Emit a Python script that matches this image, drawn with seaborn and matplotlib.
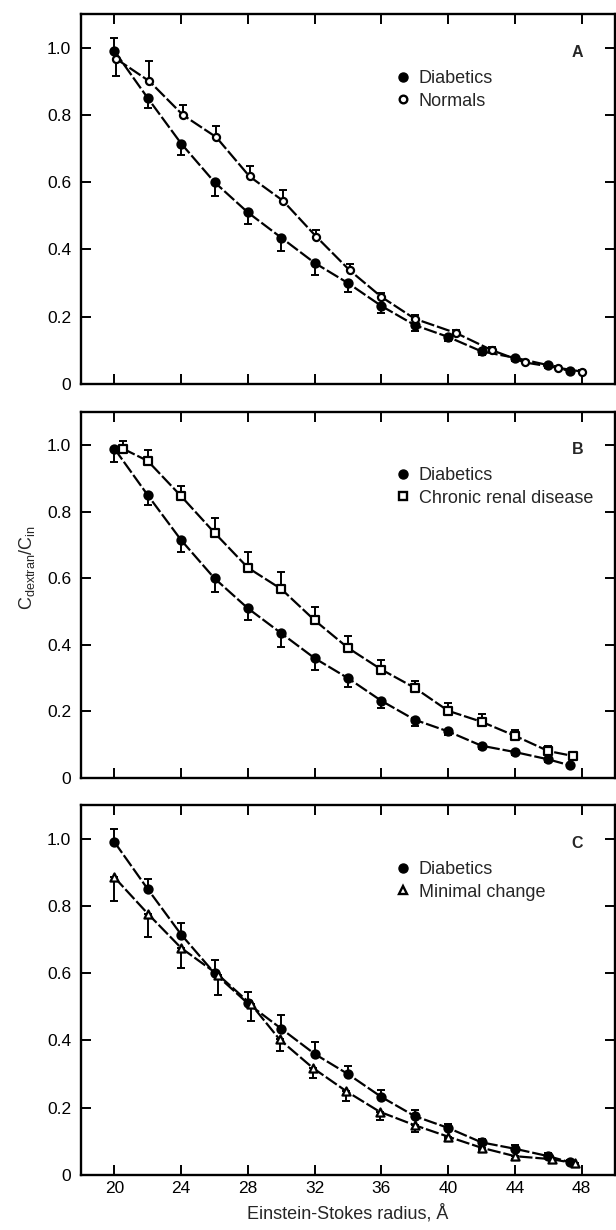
import matplotlib
matplotlib.use('Agg')
import matplotlib.pyplot as plt
from matplotlib.lines import Line2D
import seaborn as sns
import numpy as np

sns.set_style('ticks')
plt.rcParams['font.family'] = ['Liberation Sans', 'DejaVu Sans']

# Diabetics (same group in all three panels)
diab_x = [20, 22, 24, 26, 28, 30, 32, 34, 36, 38, 40, 42, 44, 46, 47.3]
diab_y = [0.99, 0.85, 0.715, 0.60, 0.51, 0.435, 0.36, 0.30, 0.232, 0.175, 0.14, 0.097, 0.078, 0.056, 0.038]
diab_err = [0.04, 0.03, 0.035, 0.04, 0.035, 0.04, 0.035, 0.025, 0.022, 0.018, 0.012, 0.01, 0.01, 0.008, 0.006]

# Panel A: normals
normal_x = [20.1, 22.1, 24.1, 26.1, 28.1, 30.1, 32.1, 34.1, 36.0, 38.0, 40.5, 42.6, 44.6, 46.6, 48.0]
normal_y = [0.967, 0.90, 0.80, 0.734, 0.617, 0.545, 0.438, 0.338, 0.259, 0.194, 0.151, 0.101, 0.064, 0.048, 0.037]
normal_err = [0.05, 0.06, 0.028, 0.032, 0.032, 0.031, 0.02, 0.02, 0.012, 0.012, 0.01, 0.008, 0.008, 0.006, 0.005]

# Panel B: chronic renal disease
renal_x = [20.5, 22, 24, 26, 28, 30, 32, 34, 36, 38, 40, 42, 44, 46, 47.5]
renal_y = [0.99, 0.953, 0.847, 0.737, 0.632, 0.568, 0.474, 0.391, 0.326, 0.271, 0.202, 0.169, 0.127, 0.081, 0.066]
renal_err = [0.023, 0.032, 0.032, 0.043, 0.046, 0.05, 0.04, 0.036, 0.03, 0.021, 0.022, 0.023, 0.017, 0.016, 0.013]

# Panel C: minimal change
minimal_x = [20, 22, 24, 26.2, 28.2, 29.9, 31.9, 33.9, 35.9, 38, 40, 42, 44, 46.2, 47.6]
minimal_y = [0.885, 0.777, 0.675, 0.596, 0.507, 0.403, 0.318, 0.249, 0.188, 0.148, 0.114, 0.081, 0.056, 0.047, 0.035]
minimal_err = [0.069, 0.068, 0.06, 0.06, 0.049, 0.034, 0.031, 0.029, 0.025, 0.02, 0.008, 0.008, 0.008, 0.006, 0.005]

x_ticks = [20, 24, 28, 32, 36, 40, 44, 48]
y_ticks = [0, 0.2, 0.4, 0.6, 0.8, 1.0]
y_ticklabels = ['0', '0.2', '0.4', '0.6', '0.8', '1.0']


def split_err(err, direction, flip_first=False):
    # one-sided error bars: returns [lower, upper]
    err = np.asarray(err, dtype=float)
    zero = np.zeros_like(err)
    lo, up = (err.copy(), zero.copy()) if direction == 'down' else (zero.copy(), err.copy())
    if flip_first:
        lo[0], up[0] = up[0], lo[0]
    return [lo, up]


def draw_series(ax, x, y, yerr, marker, filled, ms):
    sns.lineplot(x=x, y=y, ax=ax, color='black', lw=1.6, sort=False,
                 linestyle=(0, (6, 1.3)))
    ax.errorbar(x, y, yerr=yerr, fmt='none', ecolor='black', elinewidth=1.4,
                capsize=3.2, capthick=1.4, zorder=3)
    sns.scatterplot(x=x, y=y, ax=ax, marker=marker, s=ms,
                    color='black' if filled else 'white',
                    edgecolor='black', linewidth=1.6, zorder=4)


fig = plt.figure(figsize=(6.16, 12.3), dpi=100)
left, width = 81 / 616, 534 / 616
axA = fig.add_axes([left, 1 - 384 / 1230, width, 370 / 1230])
axB = fig.add_axes([left, 1 - 778 / 1230, width, 366 / 1230])
axC = fig.add_axes([left, 1 - 1175 / 1230, width, 370 / 1230])

panels = [
    (axA, 'A', normal_x, normal_y, split_err(normal_err, 'up', True), 'o', 'Normals',
     split_err(diab_err, 'down', True)),
    (axB, 'B', renal_x, renal_y, split_err(renal_err, 'up'), 's', 'Chronic renal disease',
     split_err(diab_err, 'down')),
    (axC, 'C', minimal_x, minimal_y, split_err(minimal_err, 'down'), '^', 'Minimal change',
     split_err(diab_err, 'up')),
]

for ax, letter, ox, oy, oerr, omark, oname, derr in panels:
    draw_series(ax, diab_x, diab_y, derr, 'o', True, 34)
    draw_series(ax, ox, oy, oerr, omark, False, 26 if omark != '^' else 34)

    ax.set_xlim(18, 50)
    ax.set_ylim(0, 1.1)
    ax.set_xticks(x_ticks)
    ax.set_yticks(y_ticks)
    ax.set_yticklabels(y_ticklabels)
    ax.tick_params(direction='in', length=7, width=1.4, top=True, right=True,
                   labelsize=12.5, colors='black')
    ax.tick_params(axis='y', pad=7)
    ax.tick_params(axis='x', pad=4)
    for sp in ax.spines.values():
        sp.set_linewidth(1.7)
        sp.set_color('black')
    ax.set_xlabel('')
    ax.set_ylabel('')
    if ax is not axC:
        ax.set_xticklabels([])

    ax.text(0.93, 0.897, letter, transform=ax.transAxes, fontsize=11.5,
            fontweight='bold', ha='center', va='center')

    handles = [
        Line2D([], [], ls='none', marker='o', color='black', markersize=6.5),
        Line2D([], [], ls='none', marker=omark, markerfacecolor='white',
               markeredgecolor='black', markeredgewidth=1.7, markersize=5.5),
    ]
    ax.legend(handles, ['Diabetics', oname], loc='center left',
              bbox_to_anchor=(0.59, 0.795), frameon=False, fontsize=13,
              handlelength=0.8, handletextpad=0.45, labelspacing=0.3,
              borderaxespad=0, borderpad=0)

axC.set_xlabel('Einstein-Stokes radius, Å', fontsize=13, labelpad=6)
fig.text(27 / 616, 1 - 568 / 1230, r'$\mathregular{C_{dextran}/C_{in}}$',
         rotation=90, ha='center', va='center', fontsize=13)

fig.savefig('out.png', dpi=100)
